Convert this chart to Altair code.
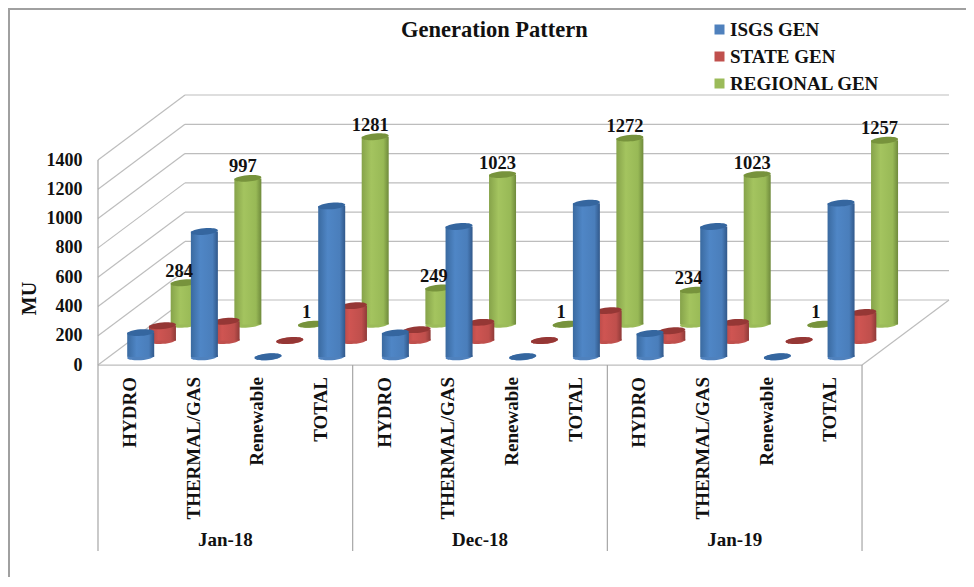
import altair as alt
import pandas as pd

FONT = "Liberation Serif"
SERIES = ["ISGS GEN", "STATE GEN", "REGIONAL GEN"]
MONTHS = ["Jan-18", "Dec-18", "Jan-19"]
CATEGORIES = ["HYDRO", "THERMAL/GAS", "Renewable", "TOTAL"]

ISGS = [166, 856, 1, 1031, 164, 890, 1, 1050, 160, 890, 1, 1050]
STATE = [102, 132, 1, 239, 75, 125, 1, 205, 68, 125, 1, 193]
REGIONAL = [284, 997, 1, 1281, 249, 1023, 1, 1272, 234, 1023, 1, 1257]
REGIONAL_LABELS = ["284", "997", "1", "1281", "249", "1023", "1", "1272", "234", "1023", "1", "1257"]
TICKS = [0, 200, 400, 600, 800, 1000, 1200, 1400]

COLORS = ["#4F81BD", "#C0504D", "#9BBB59"]
CAPS = ["#35669F", "#953735", "#77933C"]
GRADS = [
    ["#3A6AA0", "#4F86C6", "#4A7EBB", "#31588A"],
    ["#A94442", "#CF5552", "#BF4F4C", "#8F3A38"],
    ["#86A34A", "#A4C45F", "#98B956", "#6F8A3C"],
]
DEPTHS = [0.125, 0.375, 0.625]
DX, DY = 1.366, 444
BAR_W = 27
ELLIPSE = "M-1,0.09A1,0.24,-5,1,1,1,-0.09A1,0.24,-5,1,1,-1,0.09Z"

xs = alt.Scale(domain=[0, 12 + DX], range=[0, 851], nice=False, zero=False, padding=0)
ys = alt.Scale(domain=[-1270, 1400 + DY], range=[456, 0], nice=False, zero=False, padding=0)

y_axis = alt.Axis(
    values=TICKS,
    format="d",
    grid=False,
    domain=False,
    ticks=False,
    labelFont=FONT,
    labelFontSize=18,
    labelFontWeight="bold",
    labelColor="#111111",
    labelPadding=16,
    title="MU",
    titleFont=FONT,
    titleFontSize=20,
    titleFontWeight="bold",
    titleColor="#111111",
    titleX=-59,
    titleY=203,
)


def X(f="x"):
    return alt.X(f"{f}:Q", scale=xs, axis=None)


def Y(f="y"):
    return alt.Y(f"{f}:Q", scale=ys, axis=y_axis, title="MU")


GRID = "#BDBDBD"
grid_rows = []
for t in TICKS:
    grid_rows.append({"x": 0, "x2": DX, "y": t, "y2": t + DY})
    grid_rows.append({"x": DX, "x2": 12 + DX, "y": t + DY, "y2": t + DY})
grid_rows += [
    {"x": 0, "x2": 12, "y": 0, "y2": 0},
    {"x": 12, "x2": 12 + DX, "y": 0, "y2": DY},
]
grid_df = pd.DataFrame(grid_rows)

grid = alt.Chart(grid_df).mark_rule(color=GRID, strokeWidth=1.2).encode(
    x=X(), x2="x2:Q", y=Y(), y2="y2:Q"
)

div_df = pd.DataFrame(
    {"x": [0, 4, 8, 12], "y": [-1270] * 4, "y2": [0, 0, 0, 0]}
)
dividers = alt.Chart(div_df).mark_rule(color="#A6A6A6", strokeWidth=1.2).encode(
    x=X(), y=Y(), y2="y2:Q"
)
left_df = pd.DataFrame({"x": [0], "y": [0], "y2": [1400]})
left = alt.Chart(left_df).mark_rule(color="#A6A6A6", strokeWidth=1.2).encode(
    x=X(), y=Y(), y2="y2:Q"
)

frame_top = alt.Chart(pd.DataFrame({"a": [0]})).mark_rule(color="#A0A0A0", strokeWidth=2).encode(
    x=alt.value(-90), x2=alt.value(868), y=alt.value(-86)
)
frame_left = alt.Chart(pd.DataFrame({"a": [0]})).mark_rule(color="#A0A0A0", strokeWidth=2).encode(
    x=alt.value(-89), y=alt.value(-87), y2=alt.value(490)
)

series_layers = []
for s in (2, 1, 0):
    vals = [ISGS, STATE, REGIONAL][s]
    rows = []
    for i, v in enumerate(vals):
        rows.append(
            {
                "series": SERIES[s],
                "x": i + 0.5 + DEPTHS[s] * DX,
                "base": DEPTHS[s] * DY,
                "top": v + DEPTHS[s] * DY,
            }
        )
    df = pd.DataFrame(rows)
    base = alt.Chart(df).mark_point(
        shape=ELLIPSE, filled=True, size=BAR_W**2, opacity=1, strokeWidth=0
    ).encode(
        x=X(),
        y=Y("base"),
        color=alt.Color(
            "series:N",
            scale=alt.Scale(domain=SERIES, range=COLORS),
            legend=alt.Legend(
                title=None,
                orient="none",
                legendX=612,
                legendY=-75,
                symbolType="square",
                symbolSize=100,
                symbolOpacity=1,
                labelFont=FONT,
                labelFontSize=19,
                labelFontWeight="bold",
                labelColor="#111111",
                labelLimit=300,
                labelOffset=1,
                rowPadding=7,
            ),
        ),
    )
    g = GRADS[s]
    grad = alt.LinearGradient(
        gradient="linear",
        x1=0,
        x2=1,
        y1=0,
        y2=0,
        stops=[
            alt.GradientStop(offset=0, color=g[0]),
            alt.GradientStop(offset=0.35, color=g[1]),
            alt.GradientStop(offset=0.8, color=g[2]),
            alt.GradientStop(offset=1, color=g[3]),
        ],
    )
    body = alt.Chart(df).mark_bar(size=BAR_W, color=grad).encode(
        x=X(), y=Y("base"), y2="top:Q"
    )
    cap = alt.Chart(df).mark_point(
        shape=ELLIPSE, filled=True, size=BAR_W**2, opacity=1, strokeWidth=0, color=CAPS[s]
    ).encode(x=X(), y=Y("top"))
    series_layers += [base, body, cap]

label_df = pd.DataFrame(
    {
        "x": [i + 0.5 + DEPTHS[2] * DX for i in range(12)],
        "y": [v + DEPTHS[2] * DY for v in REGIONAL],
        "label": REGIONAL_LABELS,
    }
)
labels = alt.Chart(label_df).mark_text(
    font=FONT, fontSize=18.5, fontWeight="bold", color="#111111", dx=-5, dy=-12
).encode(x=X(), y=Y(), text="label:N")

cat_df = pd.DataFrame(
    {
        "x": [i + 0.5 for i in range(12)],
        "label": [CATEGORIES[i % 4] for i in range(12)],
    }
)
cats = alt.Chart(cat_df).mark_text(
    font=FONT, fontSize=19, fontWeight="bold", color="#111111",
    angle=270, align="right", baseline="middle",
).encode(x=X(), y=alt.value(282), text="label:N")

month_df = pd.DataFrame({"x": [2, 6, 10], "label": MONTHS})
months = alt.Chart(month_df).mark_text(
    font=FONT, fontSize=19, fontWeight="bold", color="#111111"
).encode(x=X(), y=alt.value(445), text="label:N")

chart = alt.layer(
    grid, left, dividers, frame_top, frame_left, *series_layers, labels, cats, months
).resolve_scale(x="shared", y="shared").properties(
    width=851,
    height=456,
    padding={"left": 90, "top": 87, "right": 17, "bottom": 26},
    autosize=alt.AutoSizeParams(type="none"),
    background="white",
    title=alt.TitleParams(
        "Generation Pattern",
        anchor="start",
        dx=394,
        offset=-34,
        font=FONT,
        fontSize=22.5,
        fontWeight="bold",
        color="#111111",
    ),
).configure_view(stroke=None)

chart.save("out.html", embed_options={"renderer": "svg", "actions": False})
